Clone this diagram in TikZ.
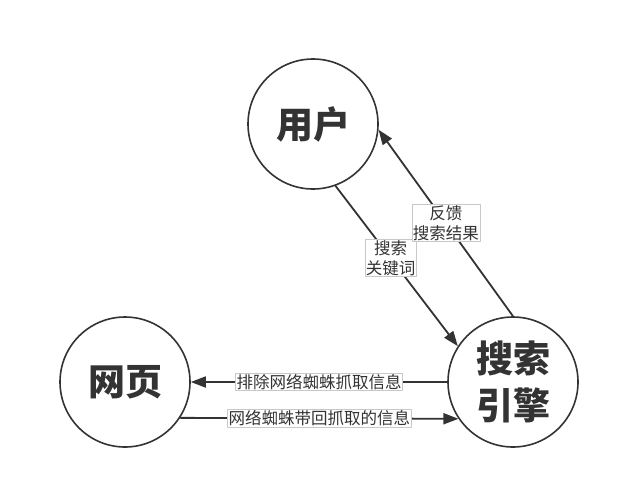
\documentclass[tikz,border=0pt]{standalone}
\usepackage{fontspec}
\newfontfamily\cjk{Noto Sans CJK SC}
\usetikzlibrary{arrows.meta}
\definecolor{ink}{HTML}{333333}
\definecolor{tagline}{HTML}{C8C8C8}

\begin{document}
\begin{tikzpicture}[line cap=round,line join=round,>={Triangle[length=15pt,width=11pt]},x=1pt,y=-1pt,
  party/.style={circle,draw=ink,line width=1.6pt,minimum size=130pt,inner sep=0pt,text=ink,font=\cjk\bfseries\fontsize{37}{47}\selectfont,align=center},
  flow/.style={->,draw=ink,line width=1.8pt},
  tag/.style={fill=white,draw=tagline,line width=0.5pt,inner sep=1pt,text=ink,font=\cjk\fontsize{16.5}{20}\selectfont,align=center}]
\useasboundingbox (0,0) rectangle (620,488);
\node[party] (user) at (313,124) {用户};
\node[party] (page) at (125,382) {网页};
\node[party] (engine) at (513,382) {搜索\\引擎};
\draw[flow] (user.-70.7) -- node[tag,pos=0.45] {搜索\\关键词} (engine.147.5);
\draw[flow] (engine.90) -- node[tag] {反馈\\搜索结果} (user.-5);
\draw[flow] (engine.180) -- node[tag] {排除网络蜘蛛抓取信息} (page.0);
\draw[flow] (page.-33.6) -- node[tag] {网络蜘蛛带回抓取的信息} (engine.-146.4);
\end{tikzpicture}
\end{document}
